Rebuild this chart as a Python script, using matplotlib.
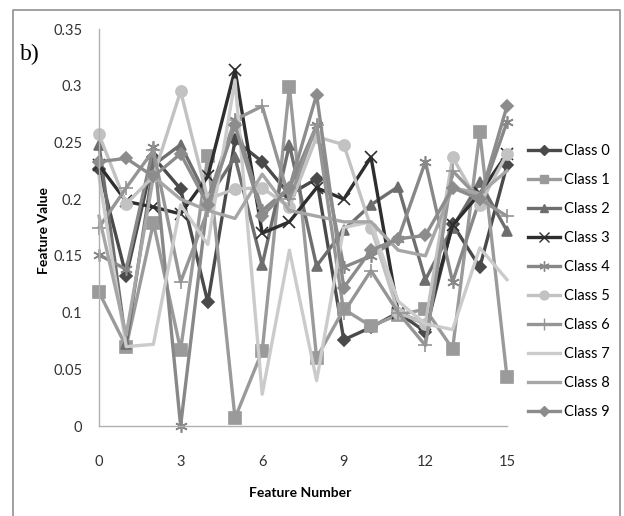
import matplotlib.pyplot as plt
from matplotlib.lines import Line2D

plt.rcParams['font.family'] = ['Lato', 'DejaVu Sans']

features = list(range(16))
class_names = ["Class 0", "Class 1", "Class 2", "Class 3", "Class 4",
               "Class 5", "Class 6", "Class 7", "Class 8", "Class 9"]

class0 = [0.227, 0.132, 0.237, 0.209, 0.109, 0.252, 0.233, 0.204, 0.218, 0.076, 0.087, 0.100, 0.083, 0.178, 0.140, 0.230]
class1 = [0.118, 0.070, 0.179, 0.067, 0.238, 0.007, 0.066, 0.299, 0.060, 0.103, 0.088, 0.098, 0.103, 0.068, 0.259, 0.043]
class2 = [0.248, 0.072, 0.230, 0.248, 0.200, 0.237, 0.142, 0.248, 0.141, 0.173, 0.195, 0.211, 0.129, 0.175, 0.215, 0.172]
class3 = [0.230, 0.198, 0.193, 0.187, 0.220, 0.314, 0.170, 0.180, 0.210, 0.200, 0.237, 0.100, 0.090, 0.177, 0.205, 0.240]
class4 = [0.151, 0.138, 0.246, 0.000, 0.200, 0.270, 0.190, 0.210, 0.265, 0.140, 0.150, 0.165, 0.233, 0.127, 0.200, 0.268]
class5 = [0.257, 0.196, 0.220, 0.295, 0.200, 0.209, 0.210, 0.193, 0.255, 0.248, 0.175, 0.100, 0.090, 0.237, 0.195, 0.240]
class6 = [0.175, 0.210, 0.243, 0.127, 0.190, 0.270, 0.282, 0.200, 0.265, 0.100, 0.137, 0.100, 0.071, 0.225, 0.200, 0.185]
class7 = [0.220, 0.070, 0.072, 0.195, 0.160, 0.305, 0.028, 0.155, 0.040, 0.175, 0.180, 0.110, 0.090, 0.085, 0.157, 0.129]
class8 = [0.185, 0.080, 0.220, 0.200, 0.190, 0.183, 0.222, 0.190, 0.185, 0.180, 0.180, 0.155, 0.150, 0.210, 0.205, 0.225]
class9 = [0.233, 0.236, 0.220, 0.240, 0.195, 0.265, 0.185, 0.210, 0.292, 0.122, 0.155, 0.165, 0.168, 0.210, 0.200, 0.282]

series = [class0, class1, class2, class3, class4, class5, class6, class7, class8, class9]
colors = ["#4a4a4a", "#9a9a9a", "#6e6e6e", "#2e2e2e", "#888888",
          "#c2c2c2", "#959595", "#cbcbcb", "#a6a6a6", "#8c8c8c"]
markers = ["D", "s", "^", "x", (6, 2, 0), "o", "+", None, None, "D"]
msizes = [6, 8, 7, 9, 9, 8, 10, 0, 0, 6]

fig = plt.figure(figsize=(6.24, 5.16), dpi=100)
ax = fig.add_axes([99 / 624, 1 - 426 / 516, 408 / 624, 397 / 516])

for vals, c, m, ms in zip(series, colors, markers, msizes):
    ax.plot(features, vals, color=c, lw=2.4, marker=m, markersize=ms,
            markeredgecolor=c, markeredgewidth=1.2, clip_on=False)

ax.set_xlim(0, 15)
ax.set_ylim(0, 0.35)
ax.set_xticks([0, 3, 6, 9, 12, 15])
ax.set_yticks([0, 0.05, 0.1, 0.15, 0.2, 0.25, 0.3, 0.35])
ax.set_yticklabels(["0", "0.05", "0.1", "0.15", "0.2", "0.25", "0.3", "0.35"])
ax.tick_params(length=0, labelsize=10.5, colors="#333333", pad=12)
ax.tick_params(axis="x", pad=21)
for s in ["top", "right"]:
    ax.spines[s].set_visible(False)
for s in ["left", "bottom"]:
    ax.spines[s].set_color("#b0b0b0")
    ax.spines[s].set_linewidth(1.0)

fig.text(300 / 624, 1 - 493 / 516, "Feature Number", ha="center", va="center",
         fontsize=10, fontweight="bold")
fig.text(44 / 624, 1 - 230 / 516, "Feature Value", ha="center", va="center",
         fontsize=10, fontweight="bold", rotation=90)
fig.text(20 / 624, 1 - 54 / 516, "b)", ha="left", va="center",
         fontsize=17, family="Liberation Serif")

handles = [Line2D([], [], color=c, lw=2.4, marker=m, markersize=ms * 0.8,
                  markeredgecolor=c) for c, m, ms in zip(colors, markers, msizes)]
fig.legend(handles, class_names, loc="upper left",
           bbox_to_anchor=(515 / 624, 1 - 131 / 516), frameon=False,
           fontsize=10.5, handlelength=2.2, handletextpad=0.25, labelspacing=1.03)

# outer frame
fig.add_artist(Line2D([13 / 624, 13 / 624, 620 / 624, 620 / 624],
                      [0, 1 - 10 / 516, 1 - 10 / 516, 0],
                      transform=fig.transFigure, color="#909090", lw=1.2))

fig.savefig("out.png", dpi=100)
